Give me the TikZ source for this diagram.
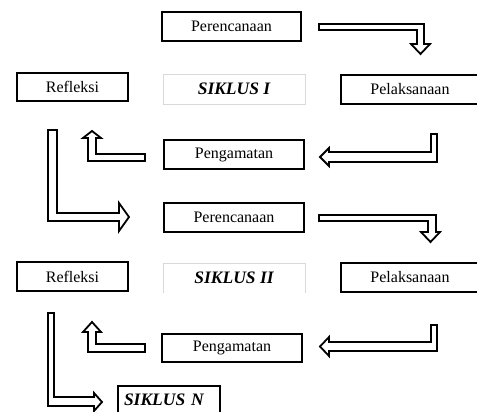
\documentclass[tikz,border=0pt]{standalone}
\usepackage{fontspec}
\setmainfont{Liberation Serif}
\begin{document}
\begin{tikzpicture}[x=1pt,y=-1pt,
  box/.style={draw,line width=2pt,inner sep=0pt,font=\fontsize{16}{19}\selectfont},
  sfont/.style={font=\fontsize{17.5}{20}\selectfont\bfseries\itshape},
  sbox/.style={draw=black!15,line width=0.6pt,inner sep=0pt,sfont},
  blk/.style={draw,line width=1.8pt,fill=white,line join=miter}]
\clip (0,0) rectangle (477,412);
\fill[white] (0,0) rectangle (477,412);
% nodes
\node[box,minimum width=139pt,minimum height=29pt] (P1) at (231.5,26.5) {Perencanaan};
\node[box,minimum width=111pt,minimum height=28pt] (R1) at (72.5,87) {Refleksi};
\node[sbox,minimum width=142pt,minimum height=30pt] (S1) at (234,89) {SIKLUS I};
\node[box,minimum width=138pt,minimum height=29pt] (L1) at (410,89.5) {Pelaksanaan};
\node[box,minimum width=140pt,minimum height=29pt] (G1) at (234,154.5) {Pengamatan};
\node[box,minimum width=140pt,minimum height=29pt] (P2) at (234,217.5) {Perencanaan};
\node[box,minimum width=111pt,minimum height=29pt] (R2) at (72.5,276.5) {Refleksi};
\node[inner sep=0pt,minimum width=142pt,minimum height=30pt,sfont] (S2) at (234,278) {SIKLUS II};
\draw[black!15,line width=0.6pt] (S2.south west) -- (S2.north west) -- (S2.north east) -- (S2.south east);
\node[box,minimum width=102pt,minimum height=28pt,text width=90pt,align=left,sfont] (SN) at (169,400) {SIKLUS N};
\node[box,minimum width=138pt,minimum height=29pt] (L2) at (410,277.5) {Pelaksanaan};
\node[box,minimum width=140pt,minimum height=28pt] (G2) at (232,348) {Pengamatan};
% block arrows
\draw[blk] (319,24) -- (424,24) -- (424,44) -- (430,44) -- (420.5,54) -- (411,44) -- (417,44) -- (417,30) -- (319,30) -- cycle;
\draw[blk] (437,134) -- (437,162) -- (329,162) -- (329,166) -- (320,157) -- (329,148) -- (329,152) -- (431,152) -- (431,134) -- cycle;
\draw[blk] (145,154) -- (145,161) -- (88,161) -- (88,138) -- (83,138) -- (92,131) -- (101,138) -- (96,138) -- (96,154) -- cycle;
\draw[blk] (48,130) -- (57,130) -- (57,213) -- (119,213) -- (119,203) -- (129,217) -- (119,231) -- (119,221) -- (48,221) -- cycle;
\draw[blk] (319,215) -- (436,215) -- (436,232) -- (440,232) -- (430.5,242) -- (421,232) -- (428,232) -- (428,221) -- (319,221) -- cycle;
\draw[blk] (437,325) -- (437,351) -- (329,351) -- (329,356) -- (320,346.5) -- (329,337) -- (329,342) -- (431,342) -- (431,325) -- cycle;
\draw[blk] (145,344) -- (145,352) -- (88,352) -- (88,332) -- (83,332) -- (92,322) -- (101,332) -- (96,332) -- (96,344) -- cycle;
\draw[blk] (48,313) -- (54,313) -- (54,397) -- (94,397) -- (94,393) -- (102,402) -- (94,411) -- (94,406) -- (48,406) -- cycle;
\end{tikzpicture}
\end{document}
